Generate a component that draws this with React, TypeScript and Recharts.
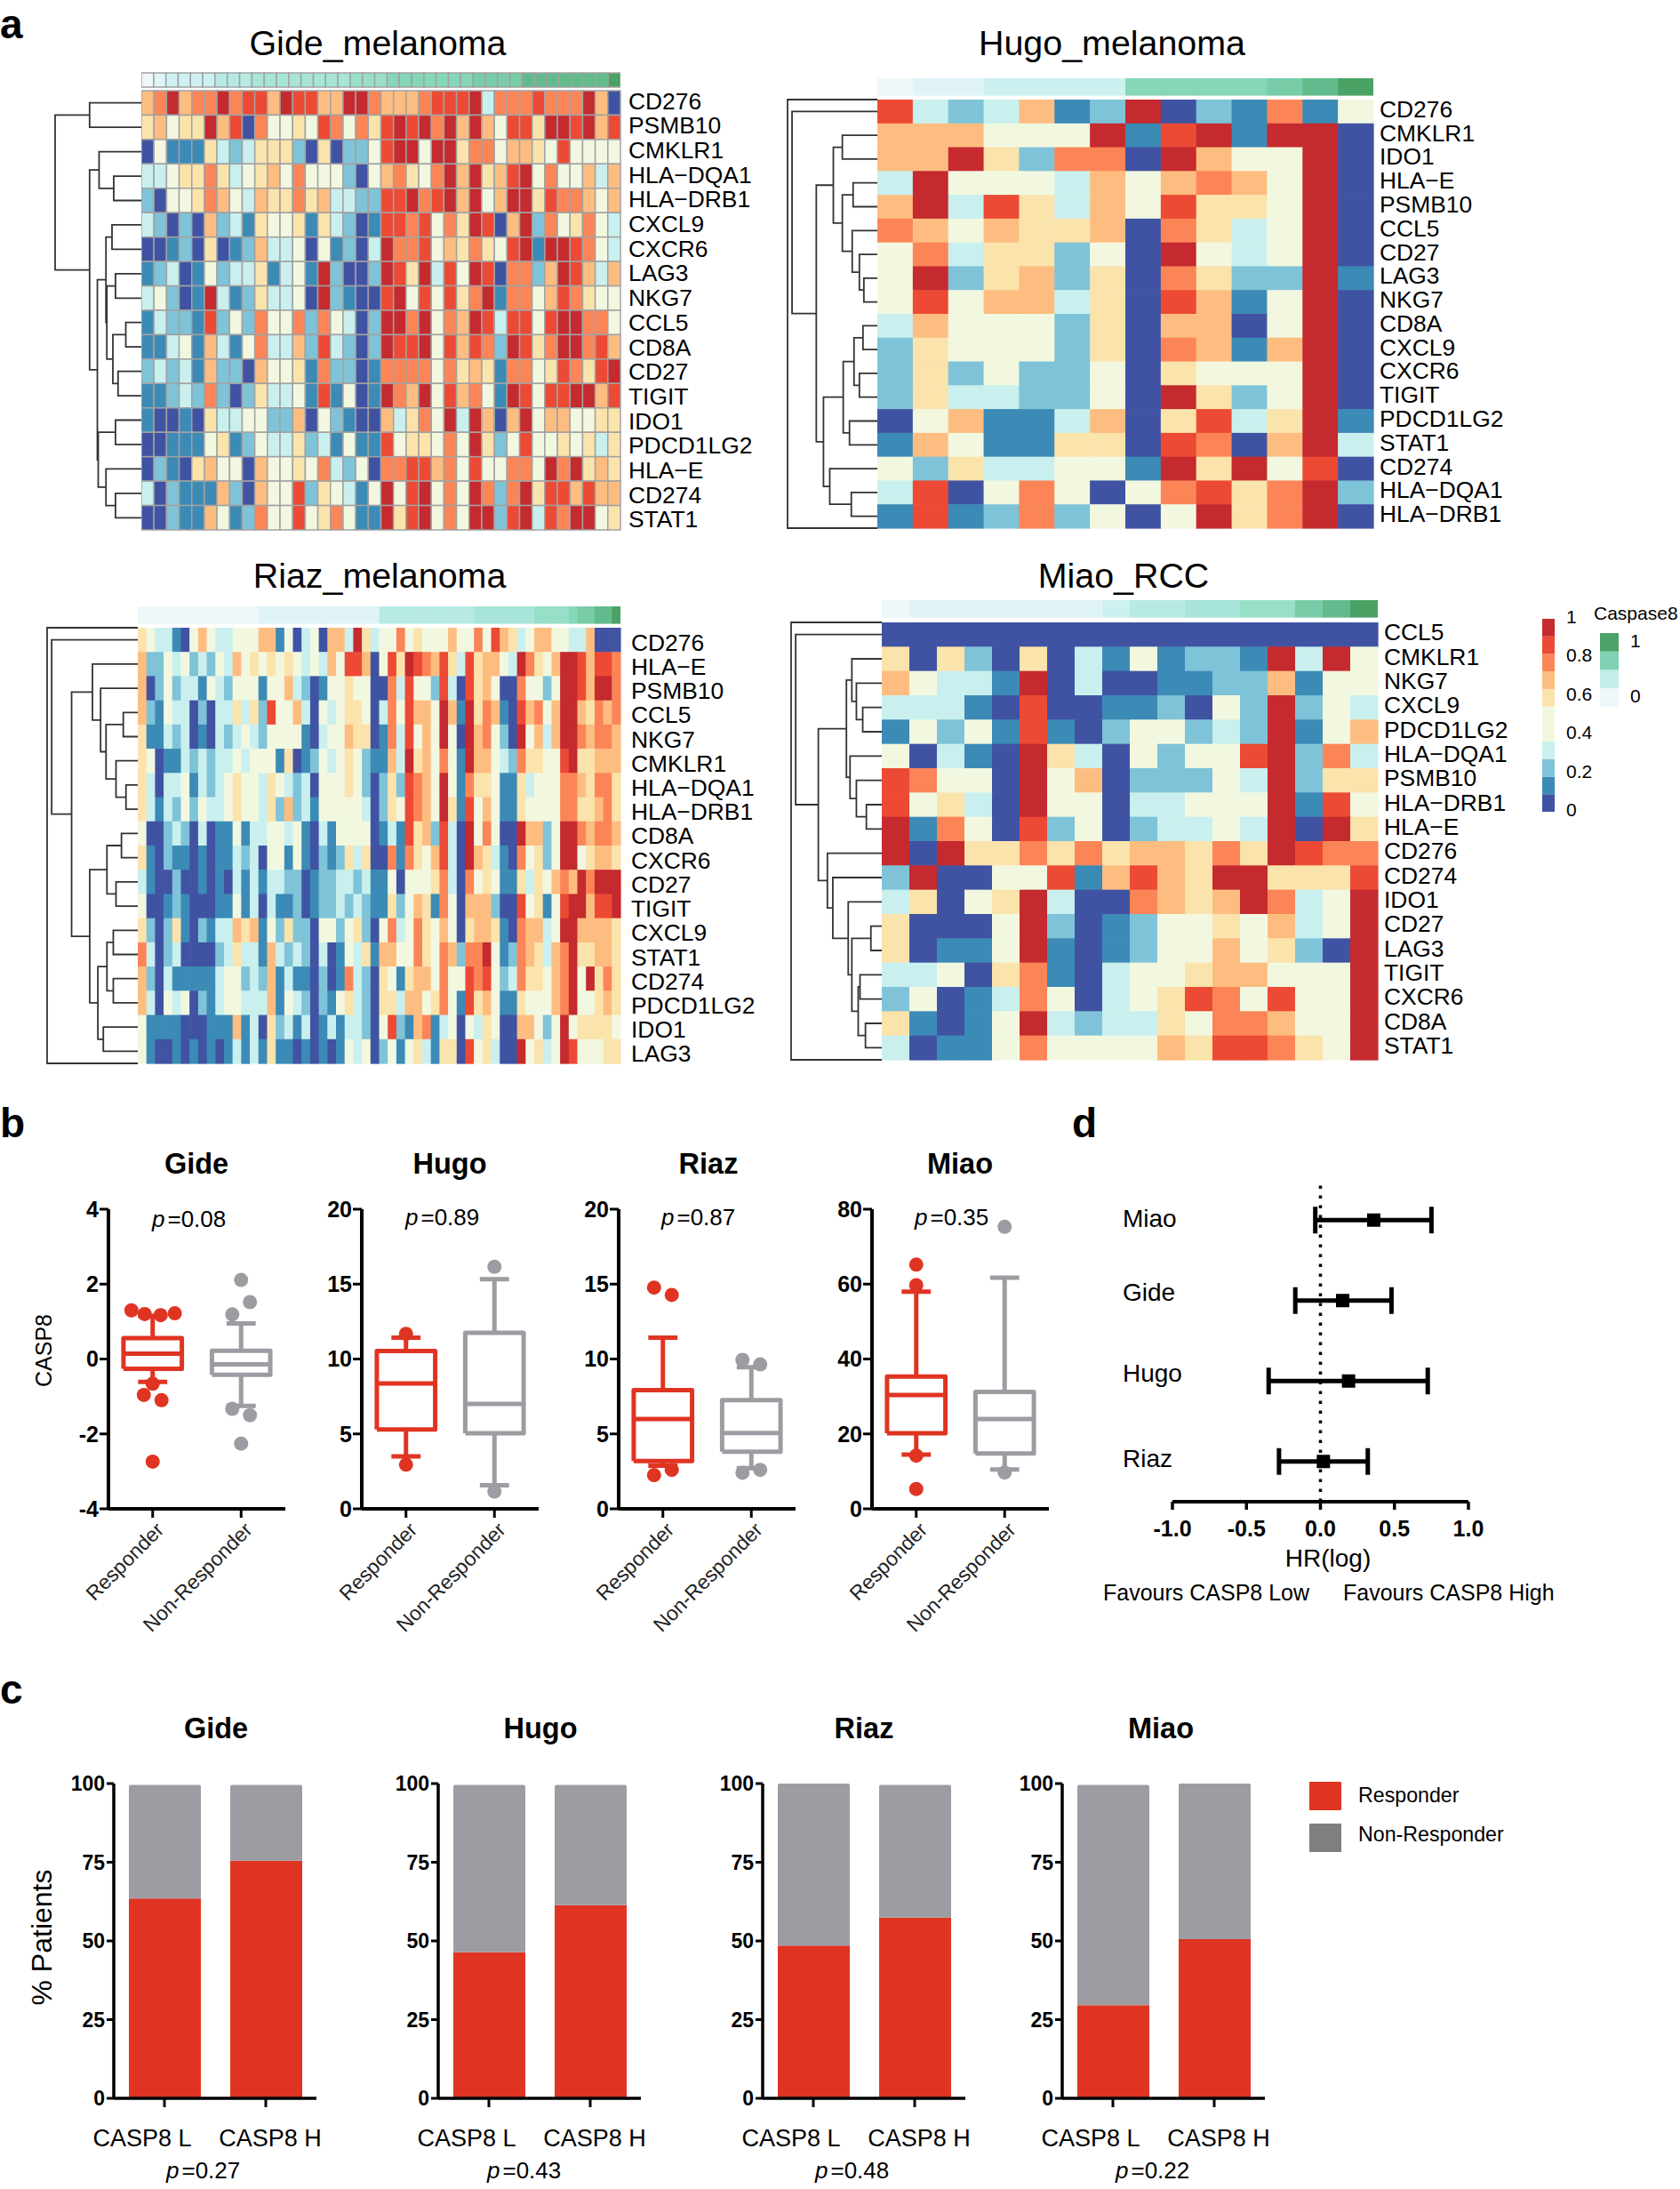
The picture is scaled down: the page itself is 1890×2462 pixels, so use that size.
import { BarChart, Bar, ScatterChart, Scatter, XAxis, YAxis, ReferenceLine, ErrorBar } from "recharts";

const FONT = '"Liberation Sans", Arial, sans-serif';
const RED = "#E03422";
const GREY = "#9D9CA2";

// expression levels, 0 (low) to 9 (high)
const HEAT_COLORS = ["#4053A3", "#3C8AB6", "#7FC3D8", "#C9F0EE", "#F2F8E0", "#FBE3AC", "#FEBD80", "#FC8558", "#EC4A34", "#C42A2E"];
const STRIP_COLORS = ["#EEF7FA", "#E0F4F8", "#CDF0F0", "#B8EAE4", "#A6E5D8", "#97DFC9", "#86D6B8", "#78CCA8", "#62BB8C", "#4AA265"];

const GIDE_GENES = ["CD276", "PSMB10", "CMKLR1", "HLA\u2212DQA1", "HLA\u2212DRB1", "CXCL9", "CXCR6", "LAG3", "NKG7", "CCL5", "CD8A", "CD27", "TIGIT", "IDO1", "PDCD1LG2", "HLA\u2212E", "CD274", "STAT1"];
const GIDE_STRIP = "01222 23334 44444 44555 66666 66777 78888 888 9";
const GIDE_ROWS = [
  "67967 79788 69886 69976 66788 89377 78777 960",
  "56455 96807 44548 74758 98979 69648 85998 968",
  "04111 53235 55205 02248 99499 57746 65484 444",
  "33455 75345 64744 42046 75479 69568 94744 636",
  "20445 76436 55756 33228 89789 69469 95877 646",
  "32020 62315 44515 32018 87847 59806 92745 743",
  "00120 50126 33404 12039 77846 57548 91998 743",
  "12301 42335 13419 20029 85938 49807 72698 636",
  "34201 93125 33409 21008 94848 57917 74687 544",
  "13221 82427 44727 43029 97947 69838 84899 774",
  "11341 63147 33628 32029 88948 68729 85799 786",
  "23231 62206 44517 22017 77747 56517 74587 589",
  "11232 72025 33418 14019 76948 67419 84889 968",
  "10010 53344 22604 21006 35749 39606 94664 455",
  "00111 45124 33523 14118 45547 49524 84454 535",
  "02105 64406 44547 32407 78867 48447 74979 565",
  "30211 16206 44825 43149 48947 49727 95886 866",
  "00211 64127 44845 74119 58947 49928 93879 945",
];
const GIDE_TREE = [100, [60, 0, 1], [60, [49, 2, [32, 3, 4]], [51, [41, [34, 5, 6], [40, [30, 7, 8], [33, [18, 9, 10], [27, 11, 12]]]], [50, [30, 13, 14], [41, 15, [30, 16, 17]]]]]];

const HUGO_GENES = ["CD276", "CMKLR1", "IDO1", "HLA\u2212E", "PSMB10", "CCL5", "CD27", "LAG3", "NKG7", "CD8A", "CXCL9", "CXCR6", "TIGIT", "PDCD1LG2", "STAT1", "CD274", "HLA\u2212DQA1", "HLA\u2212DRB1"];
const HUGO_STRIP = "01122 22666 6789";
const HUGO_ROWS = [
  "83236129021714", "66644491891990", "66952770964490", "39444364676490", "69385364855490", "76465560753490",
  "47355240943490", "49256250752291", "48466350861490", "36444250660490", "25444250761690", "25242240544490",
  "25332240952490", "04611360583591", "16411550870693", "42533441959480", "38047404785792", "18127240495790",
];
const HUGO_TREE = [95, 0, [68, [49, [39, 1, 2], [39, [27, 3, 4], [28, 5, [20, 6, [15, 7, 8]]]]], [60, [38, [26, [16, 9, 10], [20, 11, 12]], [31, 13, 14]], [53, 15, [29, 16, 17]]]]];

const RIAZ_GENES = ["CD276", "HLA\u2212E", "PSMB10", "CCL5", "NKG7", "CMKLR1", "HLA\u2212DQA1", "HLA\u2212DRB1", "CD8A", "CXCR6", "CD27", "TIGIT", "CXCL9", "STAT1", "CD274", "PDCD1LG2", "IDO1", "LAG3"];
const RIAZ_STRIP = "00000 00000 00001 11111 11111 11133 33333 33334 44444 45555 67788 9";
const RIAZ_ROWS = [
  "54331 04643 34446 61403 40663 95344 74544 46447 48653 46644 33600 0",
  "62243 42324 36454 54543 43648 86048 59876 85385 66439 75469 98688 7",
  "60242 33143 24441 44632 01445 44007 38442 83085 64007 44249 98699 7",
  "62143 30203 35352 84463 04345 54037 48664 96195 76108 67469 96576 7",
  "51132 30103 23432 44441 03446 55017 38464 94096 74209 46369 97677 6",
  "54011 32323 34344 41501 24345 42116 39564 74196 64327 55448 95566 6",
  "53033 41323 45443 54323 04445 42025 28764 94175 54115 34447 76577 5",
  "53132 42433 45443 52623 14444 43025 48764 95184 64115 44447 75567 5",
  "40023 20301 14133 44341 03144 44013 18562 83094 74009 66249 97677 6",
  "51021 10101 13230 44141 02125 35007 17546 83096 53107 45249 94566 5",
  "31002 00101 03131 33220 12233 23114 04445 73074 54115 35467 69799 9",
  "40012 10001 14130 31120 12232 32115 24651 74066 62008 45148 99688 9",
  "52025 10213 36561 42522 04424 52047 34754 64056 65107 66349 96666 5",
  "73023 00002 35331 63232 03014 35166 44754 76277 94127 65367 95566 5",
  "62031 11113 44232 61311 02017 32054 15664 74487 84237 55467 94957 5",
  "63043 40213 44333 61432 02145 32055 36645 74185 64115 44467 94456 5",
  "41111 00011 16130 52313 01313 32048 21671 34043 54006 64249 45555 4",
  "41001 01010 13131 51101 01014 34024 14531 55084 53009 45349 84445 5",
];
const RIAZ_TREE = [95, 0, [73, [50, 1, [41, 2, [35, [16, 3, 4], [24, 5, [13, 6, 7]]]]], [53, [34, [18, 8, 9], [24, 10, 11]], [44, [34, [27, 12, 13], [27, 14, 15]], [38, 16, 17]]]]];

const MIAO_GENES = ["CCL5", "CMKLR1", "NKG7", "CXCL9", "PDCD1LG2", "HLA\u2212DQA1", "PSMB10", "HLA\u2212DRB1", "HLA\u2212E", "CD276", "CD274", "IDO1", "CD27", "LAG3", "TIGIT", "CXCR6", "CD8A", "STAT1"];
const MIAO_STRIP = "01111 11123 34455 789";
const MIAO_ROWS = [
  "000000000000000000", "505205031412219394", "643319030011226144", "333108001120429243", "142418102442329146", "403109530424489273",
  "874409460222439255", "845309440334449184", "917408240233439095", "909557575665759877", "290044816865995558", "350459300765697349",
  "500049201244546349", "501149101244645209", "334057103445664449", "240137403458748449", "510149323354776449", "301147444465887549",
];
const MIAO_TREE = [95, 0, [70, [39, [33, 1, [28, 2, [21, 3, 4]]], [35, 5, [28, 6, [17, 7, 8]]]], [60, 9, [54, 10, [37, 11, [33, [12, 12, 13], [26, [24, 14, 15], [18, 16, 17]]]]]]]];

// colour keys
const KEY_SEGMENTS = [0, 1, 2, 3, 4, 4, 5, 6, 7, 8, 9];
const KEY_TICKS = [0, 2.2, 4.4, 6.6, 8.8, 11];
const CASP_KEY = ["#EEF7FA", "#C3EEEA", "#7FD3B4", "#4BA368"];

// box plots: [low whisker, q1, median, q3, high whisker]
const GIDE_R_BOX = [-0.61, -0.26, 0.14, 0.56, 1.15];
const GIDE_N_BOX = [-1.25, -0.42, -0.14, 0.22, 0.95];
const GIDE_R_OUT = [[-0.24, 1.3], [-0.09, 1.2], [0.09, 1.17], [0.25, 1.22], [0, -0.66], [-0.1, -0.96], [0.1, -1.1], [0, -2.74]];
const GIDE_N_OUT = [[0, 2.11], [0.1, 1.52], [-0.1, 1.19], [-0.1, -1.33], [0.1, -1.5], [0, -2.26]];
const HUGO_R_BOX = [3.5, 5.3, 8.37, 10.53, 11.42];
const HUGO_N_BOX = [1.57, 5.04, 7.0, 11.75, 15.33];
const HUGO_R_OUT = [[0, 11.68], [0, 2.95]];
const HUGO_N_OUT = [[0, 16.15], [0, 1.15]];
const RIAZ_R_BOX = [2.88, 3.19, 6.0, 7.93, 11.42];
const RIAZ_N_BOX = [2.72, 3.82, 5.06, 7.25, 9.45];
const RIAZ_R_OUT = [[-0.1, 14.77], [0.1, 14.28], [-0.1, 2.25], [0.1, 2.6]];
const RIAZ_N_OUT = [[-0.1, 9.94], [0.1, 9.64], [-0.1, 2.41], [0.1, 2.6]];
const MIAO_R_BOX = [14.5, 20.2, 30.4, 35.3, 58];
const MIAO_N_BOX = [10.5, 14.8, 24, 31.2, 61.7];
const MIAO_R_OUT = [[0, 65.2], [0, 59.7], [0, 14.2], [0, 5.3]];
const MIAO_N_OUT = [[0, 75.3], [0, 9.7]];
const BOX_GROUPS = ["Responder", "Non-Responder"];

// stacked bars
const BAR_GROUPS = ["CASP8 L", "CASP8 H"];
const GIDE_RESP = [63.5, 75.5];
const GIDE_NON = [36.1, 24.1];
const HUGO_RESP = [46.4, 61.4];
const HUGO_NON = [53.2, 38.2];
const RIAZ_RESP = [48.5, 57.4];
const RIAZ_NON = [51.5, 42.2];
const MIAO_RESP = [29.6, 50.6];
const MIAO_NON = [70.0, 49.4];

// forest plot
const FOREST_NAMES = ["Miao", "Gide", "Hugo", "Riaz"];
const FOREST_MEAN = [0.36, 0.15, 0.19, 0.02];
const FOREST_LOW = [-0.035, -0.17, -0.35, -0.28];
const FOREST_HIGH = [0.75, 0.48, 0.725, 0.32];

const levels = (s: string) => s.replace(/ /g, "").split("").map(Number);

function CellGrid({ rows, palette, x, y, w, h, border, genes, labelX = 8, labelDy = 1, stretch = 0 }: any) {
  const grid = rows.map(levels);
  const cols = grid[0].length;
  const cw = w / cols;
  const ch = h / grid.length;
  const cells = grid.flatMap((r: number[], ri: number) => r.map((level, ci) => ({ x: ci + 0.5, y: ri + 0.5, level })));
  const labelW = genes ? 190 : 0;
  const pad = 14; // room so the first and last gene labels are not clipped
  return (
    <div style={{ position: "absolute", left: x, top: y - pad }}>
      <ScatterChart width={w + labelW} height={h + pad * 2} margin={{ top: pad, right: 0, bottom: pad, left: 0 }}>
        <XAxis type="number" dataKey="x" domain={[0, cols]} hide />
        {genes ? (
          <YAxis
            type="number"
            dataKey="y"
            orientation="right"
            reversed
            domain={[0, grid.length]}
            ticks={genes.map((_: string, i: number) => i + 0.5)}
            interval={0}
            width={labelW}
            axisLine={false}
            tickLine={false}
            tick={(p: any) => (
              <text
                x={p.x + labelX - 8}
                y={p.y + labelDy + 9 + (p.payload.value - 9) * stretch}
                fontSize={26.4}
                fontFamily={FONT}
                fill="#000"
              >
                {genes[Math.floor(p.payload.value)]}
              </text>
            )}
          />
        ) : (
          <YAxis type="number" dataKey="y" reversed domain={[0, grid.length]} hide />
        )}
        <Scatter
          data={cells}
          isAnimationActive={false}
          shape={(p: any) => (
            <rect
              x={p.cx - cw / 2}
              y={p.cy - ch / 2}
              width={border ? cw : cw + 0.6}
              height={border ? ch : ch + 0.6}
              fill={palette[p.payload.level]}
              stroke={border ? "#A2A2A2" : "none"}
              strokeWidth={border ? 1.5 : 0}
            />
          )}
        />
      </ScatterChart>
    </div>
  );
}

// walk a dendrogram and return one polyline per merge
function treeLines(node: any, out: any[]): { h: number; y: number } {
  if (typeof node === "number") return { h: 0, y: node + 0.5 };
  const a = treeLines(node[1], out);
  const b = treeLines(node[2], out);
  out.push([{ x: a.h, y: a.y }, { x: node[0], y: a.y }, { x: node[0], y: b.y }, { x: b.h, y: b.y }]);
  return { h: node[0], y: (a.y + b.y) / 2 };
}

const noDot = () => <g />;

function Dendrogram({ tree, x, y, w, h, frame }: any) {
  const lines: any[] = [];
  treeLines(tree, lines);
  if (frame) lines.push([{ x: 0, y: 0 }, { x: 100, y: 0 }, { x: 100, y: 18 }, { x: 0, y: 18 }]);
  return (
    <div style={{ position: "absolute", left: x - 2, top: y - 2 }}>
      <ScatterChart width={w + 2} height={h + 4} margin={{ top: 2, right: 0, bottom: 2, left: 2 }}>
        <XAxis type="number" dataKey="x" domain={[0, 100]} reversed hide />
        <YAxis type="number" dataKey="y" domain={[0, 18]} reversed hide />
        {lines.map((pts, i) => (
          <Scatter key={i} data={pts} line={{ stroke: "#333", strokeWidth: 1.8 }} shape={noDot} isAnimationActive={false} />
        ))}
      </ScatterChart>
    </div>
  );
}

function ColorKey({ segments, x, y, w, h, max, ticks, format, labelDy = 0 }: any) {
  const row: any = { name: "key" };
  segments.forEach((_: string, i: number) => (row[`s${i}`] = 1));
  const pad = 16;
  return (
    <div style={{ position: "absolute", left: x, top: y - pad }}>
      <BarChart width={w + 50} height={h + pad * 2} data={[row]} barCategoryGap={0} margin={{ top: pad, right: 0, bottom: pad, left: 0 }}>
        <XAxis dataKey="name" hide />
        <YAxis
          orientation="right"
          type="number"
          domain={[0, max]}
          ticks={ticks}
          interval={0}
          width={50}
          axisLine={false}
          tickLine={false}
          tick={(p: any) => (
            <text x={p.x + 5} y={p.y + 7 + labelDy} fontSize={21} fontFamily={FONT} fill="#000">
              {format(p.payload.value)}
            </text>
          )}
        />
        {segments.map((c: string, i: number) => (
          <Bar key={i} dataKey={`s${i}`} stackId="k" fill={c} isAnimationActive={false} />
        ))}
      </BarChart>
    </div>
  );
}

const boxPath = (cx: number, b: number[]) => {
  const [lo, q1, med, q3, hi] = b;
  const bw = 0.33;
  const cap = 0.165;
  return [
    [{ x: cx - bw, y: q1 }, { x: cx + bw, y: q1 }, { x: cx + bw, y: q3 }, { x: cx - bw, y: q3 }, { x: cx - bw, y: q1 }],
    [{ x: cx - bw, y: med }, { x: cx + bw, y: med }],
    [{ x: cx, y: q3 }, { x: cx, y: hi }],
    [{ x: cx - cap, y: hi }, { x: cx + cap, y: hi }],
    [{ x: cx, y: q1 }, { x: cx, y: lo }],
    [{ x: cx - cap, y: lo }, { x: cx + cap, y: lo }],
  ];
};

function BoxPanel({ x, yMin, yMax, yTicks, respBox, nonBox, respOut, nonOut, w = 199 }: any) {
  const top = 1360;
  const h = 337;
  const left = 60;
  const pad = 24;
  const series = [
    { cx: 1, box: respBox, out: respOut, color: RED },
    { cx: 2, box: nonBox, out: nonOut, color: GREY },
  ];
  return (
    <div style={{ position: "absolute", left: x - left, top: top - pad }}>
      <ScatterChart width={left + w + 10} height={h + pad + 170} margin={{ top: pad, right: 10, bottom: 0, left: 0 }}>
        <XAxis
          type="number"
          dataKey="x"
          domain={[0.5, 2.5]}
          ticks={[1, 2]}
          interval={0}
          height={170}
          tickSize={10}
          axisLine={{ stroke: "#000", strokeWidth: 4 }}
          tickLine={{ stroke: "#000", strokeWidth: 3 }}
          tick={(p: any) => (
            <text
              x={p.x + 14}
              y={p.y + 13}
              transform={`rotate(-45 ${p.x + 14} ${p.y + 13})`}
              textAnchor="end"
              fontSize={23}
              fontFamily={FONT}
              fill="#222"
            >
              {BOX_GROUPS[p.payload.value - 1]}
            </text>
          )}
        />
        <YAxis
          type="number"
          dataKey="y"
          domain={[yMin, yMax]}
          ticks={yTicks}
          interval={0}
          width={left}
          tickSize={10}
          tickMargin={1}
          axisLine={{ stroke: "#000", strokeWidth: 4 }}
          tickLine={{ stroke: "#000", strokeWidth: 3 }}
          tick={{ fontSize: 25, fontWeight: 700, fill: "#000", fontFamily: FONT }}
        />
        {series.flatMap((s) =>
          boxPath(s.cx, s.box).map((pts, i) => (
            <Scatter key={`${s.cx}-${i}`} data={pts} line={{ stroke: s.color, strokeWidth: 5, strokeLinejoin: "round" }} shape={noDot} isAnimationActive={false} />
          ))
        )}
        {series.map((s) => (
          <Scatter
            key={`out-${s.cx}`}
            data={s.out.map(([dx, v]: number[]) => ({ x: s.cx + dx, y: v }))}
            fill={s.color}
            isAnimationActive={false}
            shape={(p: any) => <circle cx={p.cx} cy={p.cy} r={8} fill={s.color} />}
          />
        ))}
      </ScatterChart>
    </div>
  );
}

function StackPanel({ x, resp, non }: any) {
  const top = 2006;
  const h = 354;
  const left = 60;
  const w = 228;
  const pad = 24;
  const data = BAR_GROUPS.map((name, i) => ({ name, resp: resp[i], non: non[i] }));
  return (
    <div style={{ position: "absolute", left: x - left, top: top - pad }}>
      <BarChart width={left + w + 20} height={h + pad + 70} data={data} barSize={81} margin={{ top: pad, right: 20, bottom: 0, left: 0 }}>
        <XAxis
          dataKey="name"
          interval={0}
          height={70}
          tickSize={10}
          axisLine={{ stroke: "#000", strokeWidth: 3.5 }}
          tickLine={{ stroke: "#000", strokeWidth: 3 }}
          tick={(p: any) => (
            <text x={p.x + (p.payload.value === "CASP8 L" ? -25 : 5)} y={p.y + 42} textAnchor="middle" fontSize={27} fontFamily={FONT} fill="#000">
              {p.payload.value}
            </text>
          )}
        />
        <YAxis
          type="number"
          domain={[0, 100]}
          ticks={[0, 25, 50, 75, 100]}
          interval={0}
          width={left}
          tickSize={8}
          tickMargin={2}
          axisLine={{ stroke: "#000", strokeWidth: 3.5 }}
          tickLine={{ stroke: "#000", strokeWidth: 3 }}
          tick={{ fontSize: 23, fontWeight: 700, fill: "#000", fontFamily: FONT }}
        />
        <Bar dataKey="resp" stackId="a" fill={RED} isAnimationActive={false} />
        <Bar dataKey="non" stackId="a" fill={GREY} radius={[2, 2, 0, 0]} isAnimationActive={false} />
      </BarChart>
    </div>
  );
}

function ForestPanel() {
  const data = FOREST_NAMES.map((name, i) => ({
    name,
    x: FOREST_MEAN[i],
    y: i,
    ci: [FOREST_MEAN[i] - FOREST_LOW[i], FOREST_HIGH[i] - FOREST_MEAN[i]],
  }));
  return (
    <div style={{ position: "absolute", left: 1319 - 50, top: 1327 }}>
      <ScatterChart width={433} height={362 + 60} margin={{ top: 0, right: 50, bottom: 0, left: 50 }}>
        <XAxis
          type="number"
          dataKey="x"
          domain={[-1, 1]}
          ticks={[-1, -0.5, 0, 0.5, 1]}
          interval={0}
          height={60}
          tickSize={9}
          tickMargin={12}
          tickFormatter={(v: number) => v.toFixed(1)}
          axisLine={{ stroke: "#000", strokeWidth: 4 }}
          tickLine={{ stroke: "#000", strokeWidth: 3.5 }}
          tick={{ fontSize: 25, fontWeight: 700, fill: "#000", fontFamily: FONT }}
        />
        <YAxis type="number" dataKey="y" domain={[-0.5, 3.5]} reversed hide />
        <ReferenceLine x={0} stroke="#000" strokeWidth={3.5} strokeDasharray="3.5 7.5" />
        <Scatter
          data={data}
          isAnimationActive={false}
          shape={(p: any) => <rect x={p.cx - 7.5} y={p.cy - 7.5} width={15} height={15} fill="#000" />}
        >
          <ErrorBar dataKey="ci" direction="x" width={15} strokeWidth={5} stroke="#000" isAnimationActive={false} />
        </Scatter>
      </ScatterChart>
    </div>
  );
}

function Pval({ x, y, value }: { x: number; y: number; value: string }) {
  return (
    <text x={x} y={y} fontSize={26} fill="#000" fontFamily={FONT}>
      <tspan fontStyle="italic">p</tspan>
      <tspan dx={3}>={value}</tspan>
    </text>
  );
}

function Overlay() {
  const title = { fontSize: 39.4, textAnchor: "middle" as const, fill: "#000", fontFamily: FONT };
  const bold = { fontSize: 32.5, fontWeight: 700, textAnchor: "middle" as const, fill: "#000", fontFamily: FONT };
  const letter = { fontSize: 46, fontWeight: 700, fill: "#000", fontFamily: FONT };
  const plain = { fontSize: 25, fill: "#000", fontFamily: FONT };
  return (
    <svg width={1890} height={2462} style={{ position: "absolute", left: 0, top: 0, pointerEvents: "none" }}>
      <text x={0} y={43} {...letter}>a</text>
      <text x={0} y={1279} {...letter}>b</text>
      <text x={0} y={1916} {...letter}>c</text>
      <text x={1206} y={1279} {...letter}>d</text>

      <text x={425} y={62} {...title}>Gide_melanoma</text>
      <text x={1251} y={62} {...title}>Hugo_melanoma</text>
      <text x={427} y={661} {...title}>Riaz_melanoma</text>
      <text x={1264} y={661} {...title}>Miao_RCC</text>
      <text x={1793} y={697} fontSize={21} fill="#000" fontFamily={FONT}>Caspase8</text>

      <text x={221} y={1320} {...bold}>Gide</text>
      <text x={506} y={1320} {...bold}>Hugo</text>
      <text x={797} y={1320} {...bold}>Riaz</text>
      <text x={1080} y={1320} {...bold}>Miao</text>
      <Pval x={171} y={1380} value="0.08" />
      <Pval x={456} y={1378} value="0.89" />
      <Pval x={744} y={1378} value="0.87" />
      <Pval x={1029} y={1378} value="0.35" />
      <text transform="translate(58 1519) rotate(-90)" textAnchor="middle" {...plain}>CASP8</text>

      <text x={1263} y={1380} fontSize={28} fill="#000" fontFamily={FONT}>Miao</text>
      <text x={1263} y={1463} fontSize={28} fill="#000" fontFamily={FONT}>Gide</text>
      <text x={1263} y={1554} fontSize={28} fill="#000" fontFamily={FONT}>Hugo</text>
      <text x={1263} y={1650} fontSize={28} fill="#000" fontFamily={FONT}>Riaz</text>
      <text x={1494} y={1762} textAnchor="middle" fontSize={28} fill="#000" fontFamily={FONT}>HR(log)</text>
      <text x={1241} y={1800} {...plain}>Favours CASP8 Low</text>
      <text x={1511} y={1800} {...plain}>Favours CASP8 High</text>

      <text x={243} y={1955} {...bold}>Gide</text>
      <text x={608} y={1955} {...bold}>Hugo</text>
      <text x={972} y={1955} {...bold}>Riaz</text>
      <text x={1306} y={1955} {...bold}>Miao</text>
      <text transform="translate(58 2179) rotate(-90)" textAnchor="middle" fontSize={32} fill="#000" fontFamily={FONT}>% Patients</text>
      <Pval x={187} y={2450} value="0.27" />
      <Pval x={548} y={2450} value="0.43" />
      <Pval x={917} y={2450} value="0.48" />
      <Pval x={1255} y={2450} value="0.22" />

      <rect x={1473} y={2004} width={36} height={32} fill={RED} />
      <rect x={1473} y={2051} width={36} height={32} fill="#7F7F7F" />
      <text x={1528} y={2027} fontSize={23.2} fill="#000" fontFamily={FONT}>Responder</text>
      <text x={1528} y={2071} fontSize={23.2} fill="#000" fontFamily={FONT}>Non-Responder</text>
    </svg>
  );
}

export default function App() {
  return (
    <div style={{ position: "absolute", left: 0, top: 0, width: 1890, height: 2462, background: "#fff", overflow: "hidden", fontFamily: FONT }}>
      <CellGrid rows={[GIDE_STRIP]} palette={STRIP_COLORS} x={159} y={82} w={539} h={16} border />
      <CellGrid rows={GIDE_ROWS} palette={HEAT_COLORS} x={159} y={102} w={539} h={494} border genes={GIDE_GENES} labelX={9} labelDy={0} stretch={0.23} />
      <Dendrogram tree={GIDE_TREE} x={62} y={102} w={97} h={494} />

      <CellGrid rows={[HUGO_STRIP]} palette={STRIP_COLORS} x={987} y={88} w={558} h={19} />
      <CellGrid rows={HUGO_ROWS} palette={HEAT_COLORS} x={987} y={112} w={558} h={482} genes={HUGO_GENES} labelX={7} labelDy={-2.5} />
      <Dendrogram tree={HUGO_TREE} x={886} y={112} w={101} h={482} frame />

      <CellGrid rows={[RIAZ_STRIP]} palette={STRIP_COLORS} x={155} y={682} w={543} h={19} />
      <CellGrid rows={RIAZ_ROWS} palette={HEAT_COLORS} x={155} y={706} w={543} h={490} genes={RIAZ_GENES} labelX={12} labelDy={3} />
      <Dendrogram tree={RIAZ_TREE} x={53} y={706} w={102} h={490} frame />

      <CellGrid rows={[MIAO_STRIP]} palette={STRIP_COLORS} x={992} y={675} w={558} h={19} />
      <CellGrid rows={MIAO_ROWS} palette={HEAT_COLORS} x={992} y={700} w={558} h={492} genes={MIAO_GENES} labelX={7} labelDy={-2.5} />
      <Dendrogram tree={MIAO_TREE} x={890} y={700} w={102} h={492} frame />

      <ColorKey
        segments={KEY_SEGMENTS.map((l) => HEAT_COLORS[l])}
        x={1735}
        y={696}
        w={14}
        h={217}
        max={11}
        ticks={KEY_TICKS}
        format={(v: number) => String(Math.round((v / 11) * 10) / 10)}
        labelDy={-2}
      />
      <ColorKey segments={CASP_KEY} x={1800} y={712} w={21} h={83} max={4} ticks={[0.6, 3.55]} format={(v: number) => (v > 2 ? "1" : "0")} />

      <BoxPanel x={122} yMin={-4} yMax={4} yTicks={[-4, -2, 0, 2, 4]} respBox={GIDE_R_BOX} nonBox={GIDE_N_BOX} respOut={GIDE_R_OUT} nonOut={GIDE_N_OUT} />
      <BoxPanel x={407} yMin={0} yMax={20} yTicks={[0, 5, 10, 15, 20]} respBox={HUGO_R_BOX} nonBox={HUGO_N_BOX} respOut={HUGO_R_OUT} nonOut={HUGO_N_OUT} />
      <BoxPanel x={696} yMin={0} yMax={20} yTicks={[0, 5, 10, 15, 20]} respBox={RIAZ_R_BOX} nonBox={RIAZ_N_BOX} respOut={RIAZ_R_OUT} nonOut={RIAZ_N_OUT} />
      <BoxPanel x={980.5} yMin={0} yMax={80} yTicks={[0, 20, 40, 60, 80]} respBox={MIAO_R_BOX} nonBox={MIAO_N_BOX} respOut={MIAO_R_OUT} nonOut={MIAO_N_OUT} />

      <ForestPanel />

      <StackPanel x={127.5} resp={GIDE_RESP} non={GIDE_NON} />
      <StackPanel x={493} resp={HUGO_RESP} non={HUGO_NON} />
      <StackPanel x={858} resp={RIAZ_RESP} non={RIAZ_NON} />
      <StackPanel x={1195} resp={MIAO_RESP} non={MIAO_NON} />

      <Overlay />
    </div>
  );
}
